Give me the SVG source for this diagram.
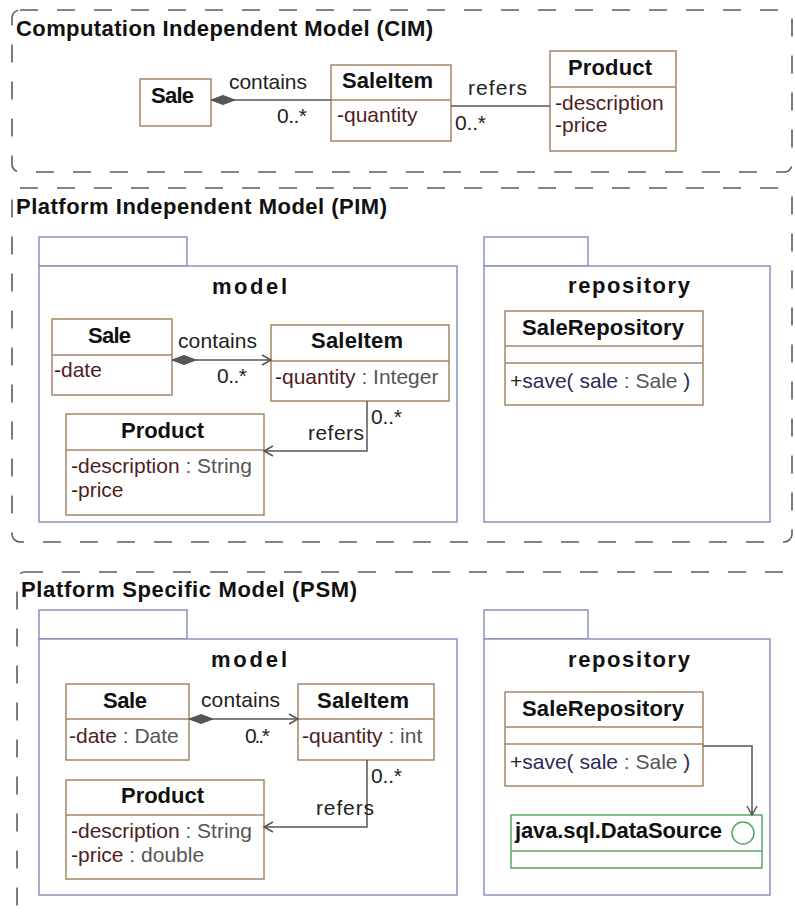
<svg xmlns="http://www.w3.org/2000/svg" width="795" height="919" viewBox="0 0 795 919">
<style>
.frame{fill:none;stroke:#5c5c5c;stroke-width:1.6;stroke-dasharray:18 19}
.pkg{fill:#fff;stroke:#8a93c0;stroke-width:1.5}
.cls{fill:#fff;stroke:#a38669;stroke-width:1.5}
.iface{fill:#fff;stroke:#5aa66a;stroke-width:1.5}
.sep{stroke:#a38669;stroke-width:1.5}
.isep{stroke:#5aa66a;stroke-width:1.5}
.conn{fill:none;stroke:#555;stroke-width:1.5}
text{font-family:"Liberation Sans",Arial,sans-serif;font-size:21px;fill:#111}
.title{font-weight:bold;font-size:22px}
.pname{font-weight:bold;font-size:22px}
.cname{font-weight:bold;font-size:22px}
.lbl{fill:#222}
.dash{fill:#222}
.an{fill:#4f1e1e}
.ty{fill:#555}
.op{fill:#2b2b58}
</style>
<defs>
<marker id="diamond" markerUnits="userSpaceOnUse" markerWidth="26" markerHeight="12" refX="0" refY="6" orient="auto" overflow="visible">
<path d="M0,6 L12,1.5 L24,6 L12,10.5 Z" fill="#555" stroke="#555" stroke-width="1"/>
</marker>
<marker id="open" markerUnits="userSpaceOnUse" markerWidth="12" markerHeight="12" refX="10" refY="6" orient="auto" overflow="visible">
<path d="M1,1 L10,6 L1,11" fill="none" stroke="#555" stroke-width="1.5"/>
</marker>
</defs>

<!-- CIM -->
<g id="cim-frame">
<rect class="frame" x="12" y="10" width="780" height="162" rx="8"/>
<text class="title" x="16" y="36" textLength="417">Computation Independent Model (CIM)</text>
</g>
<g id="cim-sale">
<rect class="cls" x="140" y="79" width="71" height="47"/>
<text class="cname" x="151" y="103" textLength="43">Sale</text>
</g>
<g id="cim-saleitem">
<rect class="cls" x="331" y="65" width="120" height="76"/>
<line class="sep" x1="331" y1="100" x2="451" y2="100"/>
<text class="cname" x="342" y="88" textLength="91">SaleItem</text>
<text x="337" y="122"><tspan class="dash">-</tspan><tspan class="an">quantity</tspan></text>
</g>
<g id="cim-product">
<rect class="cls" x="550" y="51" width="126" height="100"/>
<line class="sep" x1="550" y1="87" x2="676" y2="87"/>
<text class="cname" x="568" y="75" textLength="84">Product</text>
<text x="555" y="110"><tspan class="dash">-</tspan><tspan class="an">description</tspan></text>
<text x="555" y="132"><tspan class="dash">-</tspan><tspan class="an">price</tspan></text>
</g>

<!-- PIM -->
<g id="pim-frame">
<rect class="frame" x="12" y="188" width="780" height="354" rx="8"/>
<text class="title" x="16" y="214" textLength="371">Platform Independent Model (PIM)</text>
</g>
<g id="pim-model">
<rect class="pkg" x="39" y="237" width="148" height="29"/>
<rect class="pkg" x="39" y="266" width="418" height="256"/>
<text class="pname" x="212" y="294" textLength="75">model</text>
</g>
<g id="pim-sale">
<rect class="cls" x="52" y="319" width="120" height="76"/>
<line class="sep" x1="52" y1="355" x2="172" y2="355"/>
<text class="cname" x="88" y="343" textLength="43">Sale</text>
<text x="54" y="377"><tspan class="dash">-</tspan><tspan class="an">date</tspan></text>
</g>
<g id="pim-saleitem">
<rect class="cls" x="271" y="325" width="178" height="76"/>
<line class="sep" x1="271" y1="361" x2="449" y2="361"/>
<text class="cname" x="311" y="348" textLength="92">SaleItem</text>
<text x="275" y="384"><tspan class="dash">-</tspan><tspan class="an">quantity</tspan><tspan class="ty"> : Integer</tspan></text>
</g>
<g id="pim-product">
<rect class="cls" x="66" y="414" width="198" height="101"/>
<line class="sep" x1="66" y1="450" x2="264" y2="450"/>
<text class="cname" x="121" y="438" textLength="83">Product</text>
<text x="71" y="473"><tspan class="dash">-</tspan><tspan class="an">description</tspan><tspan class="ty"> : String</tspan></text>
<text x="71" y="497"><tspan class="dash">-</tspan><tspan class="an">price</tspan></text>
</g>
<g id="pim-repository">
<rect class="pkg" x="484" y="237" width="104" height="29"/>
<rect class="pkg" x="484" y="266" width="286" height="256"/>
<text class="pname" x="568" y="293" textLength="122">repository</text>
</g>
<g id="pim-salerepository">
<rect class="cls" x="505" y="311" width="198" height="94"/>
<line class="sep" x1="505" y1="346" x2="703" y2="346"/>
<line class="sep" x1="505" y1="363" x2="703" y2="363"/>
<text class="cname" x="522" y="335" textLength="162">SaleRepository</text>
<text x="510" y="388"><tspan class="dash">+</tspan><tspan class="op">save( sale</tspan><tspan class="ty"> : Sale </tspan><tspan class="op">)</tspan></text>
</g>

<!-- PSM -->
<g id="psm-frame">
<rect class="frame" x="17" y="572" width="790" height="348" rx="8"/>
<text class="title" x="21" y="597" textLength="336">Platform Specific Model (PSM)</text>
</g>
<g id="psm-model">
<rect class="pkg" x="39" y="610" width="148" height="29"/>
<rect class="pkg" x="39" y="639" width="418" height="256"/>
<text class="pname" x="211" y="667" textLength="76">model</text>
</g>
<g id="psm-sale">
<rect class="cls" x="66" y="684" width="123" height="76"/>
<line class="sep" x1="66" y1="719" x2="189" y2="719"/>
<text class="cname" x="103" y="708" textLength="44">Sale</text>
<text x="69" y="743"><tspan class="dash">-</tspan><tspan class="an">date</tspan><tspan class="ty"> : Date</tspan></text>
</g>
<g id="psm-saleitem">
<rect class="cls" x="298" y="684" width="136" height="76"/>
<line class="sep" x1="298" y1="719" x2="434" y2="719"/>
<text class="cname" x="317" y="708" textLength="92">SaleItem</text>
<text x="302" y="743"><tspan class="dash">-</tspan><tspan class="an">quantity</tspan><tspan class="ty"> : int</tspan></text>
</g>
<g id="psm-product">
<rect class="cls" x="66" y="780" width="198" height="99"/>
<line class="sep" x1="66" y1="815" x2="264" y2="815"/>
<text class="cname" x="121" y="803" textLength="83">Product</text>
<text x="71" y="838"><tspan class="dash">-</tspan><tspan class="an">description</tspan><tspan class="ty"> : String</tspan></text>
<text x="71" y="862"><tspan class="dash">-</tspan><tspan class="an">price</tspan><tspan class="ty"> : double</tspan></text>
</g>
<g id="psm-repository">
<rect class="pkg" x="484" y="610" width="104" height="29"/>
<rect class="pkg" x="484" y="639" width="286" height="256"/>
<text class="pname" x="568" y="667" textLength="122">repository</text>
</g>
<g id="psm-salerepository">
<rect class="cls" x="505" y="692" width="198" height="94"/>
<line class="sep" x1="505" y1="727" x2="703" y2="727"/>
<line class="sep" x1="505" y1="744" x2="703" y2="744"/>
<text class="cname" x="522" y="716" textLength="162">SaleRepository</text>
<text x="510" y="769"><tspan class="dash">+</tspan><tspan class="op">save( sale</tspan><tspan class="ty"> : Sale </tspan><tspan class="op">)</tspan></text>
</g>
<g id="psm-datasource">
<rect class="iface" x="511" y="815" width="251" height="53"/>
<line class="isep" x1="511" y1="851" x2="762" y2="851"/>
<text class="cname" x="515" y="838" textLength="207">java.sql.DataSource</text>
<circle cx="743" cy="833" r="11" fill="#fff" stroke="#5aa66a" stroke-width="1.5"/>
</g>

<!-- connectors -->
<g id="connectors">
<path class="conn" d="M211,100 L331,100" marker-start="url(#diamond)"/>
<path class="conn" d="M451,106 L550,106"/>
<path class="conn" d="M172,360 L271,360" marker-start="url(#diamond)" marker-end="url(#open)"/>
<path class="conn" d="M367,401 L367,451 L264,451" marker-end="url(#open)"/>
<path class="conn" d="M189,719 L298,719" marker-start="url(#diamond)" marker-end="url(#open)"/>
<path class="conn" d="M367,760 L367,827 L264,827" marker-end="url(#open)"/>
<path class="conn" d="M703,746 L752,746 L752,815" marker-end="url(#open)"/>
<text class="lbl" x="229" y="89" textLength="78">contains</text>
<text class="lbl" x="277" y="123" textLength="30">0..*</text>
<text class="lbl" x="468" y="95" textLength="59">refers</text>
<text class="lbl" x="455" y="130" textLength="31">0..*</text>
<text class="lbl" x="178" y="348" textLength="79">contains</text>
<text class="lbl" x="217" y="383" textLength="30">0..*</text>
<text class="lbl" x="308" y="440" textLength="56">refers</text>
<text class="lbl" x="371" y="424" textLength="31">0..*</text>
<text class="lbl" x="201" y="707" textLength="79">contains</text>
<text class="lbl" x="245" y="743" textLength="25">0..*</text>
<text class="lbl" x="316" y="815" textLength="58">refers</text>
<text class="lbl" x="371" y="783" textLength="31">0..*</text>
</g>
</svg>
